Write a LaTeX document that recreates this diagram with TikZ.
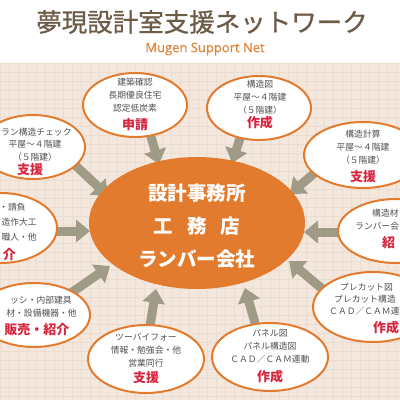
\documentclass[tikz,border=0pt]{standalone}
\usepackage{fontspec}
\newfontfamily\jp{Noto Sans CJK JP}
\newfontfamily\jpb[FakeBold=0.8]{Noto Sans CJK JP}
\newfontfamily\os[FakeBold=0.6]{Open Sans}
\usetikzlibrary{arrows.meta,shapes.geometric}
\definecolor{bg}{HTML}{F4E8DE}
\definecolor{gridc}{HTML}{ECDDD1}
\definecolor{org}{HTML}{E27B2E}
\definecolor{titlec}{HTML}{6B5B47}
\definecolor{subc}{HTML}{E0873E}
\definecolor{redc}{HTML}{D8263F}
\definecolor{txt}{HTML}{505050}
\definecolor{arr}{HTML}{A09B87}
\begin{document}
\begin{tikzpicture}[x=1pt,y=-1pt,
  bubble/.style={draw=org, line width=2pt, fill=white, ellipse, inner sep=0pt},
  centre/.style={fill=org, ellipse, inner sep=0pt, minimum width=216pt, minimum height=132pt},
  btxt/.style={font=\jp\fontsize{8.8}{13}\selectfont, text=txt, align=center, inner sep=0pt},
  lab/.style={font=\jp\bfseries\fontsize{13}{14}\selectfont, text=redc, inner sep=0pt},
  ctxt/.style={font=\jp\bfseries\fontsize{19.5}{33}\selectfont, text=white, align=center, inner sep=0pt},
  bigarrow/.style={draw=arr, line width=9pt, -{Triangle[width=22pt,length=14pt]}}]
\useasboundingbox (0,0) rectangle (400,400);
\begin{scope}
\clip (0,0) rectangle (400,400);
% background
\fill[white] (0,0) rectangle (400,63);
\fill[bg] (0,63) rectangle (400,400);
\foreach \gx in {0,9,...,400} \draw[gridc, line width=0.5pt] (\gx,63) -- (\gx,400);
\foreach \gy in {63,72,...,400} \draw[gridc, line width=0.5pt] (0,\gy) -- (400,\gy);
% title
\node[font=\jpb\fontsize{25.5}{28}\selectfont, text=titlec, inner sep=0pt] (title) at (202,22) {夢現設計室支援ネットワーク};
\node[font=\os\fontsize{13}{14}\selectfont, text=subc, inner sep=0pt] (sub) at (205,49) {Mugen Support Net};
% arrow end points
\coordinate (t1) at (149,130); \coordinate (h1) at (159,164);
\coordinate (t2) at (242,132); \coordinate (h2) at (232,163);
\coordinate (t3) at (75,165);  \coordinate (h3) at (108,196);
\coordinate (t4) at (318,170); \coordinate (h4) at (290,194);
\coordinate (t5) at (52,231);  \coordinate (h5) at (90,231);
\coordinate (t6) at (345,232); \coordinate (h6) at (304,232);
\coordinate (t7) at (68,295);  \coordinate (h7) at (110,266);
\coordinate (t8) at (149,332); \coordinate (h8) at (156,289);
\coordinate (t9) at (257,330); \coordinate (h9) at (245,288);
\coordinate (t10) at (326,292); \coordinate (h10) at (289,261);
\foreach \i in {1,...,10} \draw[bigarrow] (t\i) -- (h\i);
% centre
\node[centre] (c) at (197,223) {};
\node[ctxt] (ct) at (197,226) {設計事務所\\工\hspace{14pt}務\hspace{14pt}店\\ランバー会社};
% bubbles
\node[bubble, minimum width=104pt, minimum height=64pt] (e1) at (135,105) {};
\node[bubble, minimum width=104pt, minimum height=64pt] (e2) at (259,108) {};
\node[bubble, minimum width=104pt, minimum height=64pt] (e3) at (33,147) {};
\node[bubble, minimum width=118pt, minimum height=66pt] (e4) at (363,155) {};
\node[bubble, minimum width=112pt, minimum height=70pt] (e5) at (1,228) {};
\node[bubble, minimum width=116pt, minimum height=64pt] (e6) at (396,231) {};
\node[bubble, minimum width=112pt, minimum height=64pt] (e7) at (34,315) {};
\node[bubble, minimum width=116pt, minimum height=68pt] (e8) at (146,359) {};
\node[bubble, minimum width=116pt, minimum height=68pt] (e9) at (270,357) {};
\node[bubble, minimum width=120pt, minimum height=70pt] (e10) at (373,307) {};
% bubble texts
\node[btxt] (e1t) at (135,95) {建築確認\\長期優良住宅\\認定低炭素};
\node[lab] (e1l) at (135,125) {申請};
\node[btxt] (e2t) at (260,97) {構造図\\平屋～４階建\\（５階建）};
\node[lab] (e2l) at (260,123) {作成};
\node[btxt, anchor=west] (e3a) at (1,132) {ラン構造チェック};
\node[btxt] (e3b) at (35,151) {平屋～４階建\\（５階建）};
\node[lab] (e3l) at (30,170) {支援};
\node[btxt] (e4t) at (363,147) {構造計算\\平屋～４階建\\（５階建）};
\node[lab] (e4l) at (363,177) {支援};
\node[btxt, anchor=east] (e5a) at (26,207) {・請負};
\node[btxt, anchor=east] (e5b) at (37,222) {造作大工};
\node[btxt, anchor=east] (e5c) at (37,237) {職人・他};
\node[lab, anchor=east] (e5l) at (16,255) {介};
\node[btxt, anchor=west] (e6a) at (372,213) {構造材};
\node[btxt, anchor=west] (e6b) at (355,226) {ランバー会};
\node[lab, anchor=west] (e6l) at (382,243) {紹};
\node[btxt, anchor=east] (e7a) at (72,300) {ッシ・内部建具};
\node[btxt, anchor=east] (e7b) at (77,313) {材・設備機器・他};
\node[lab] (e7l) at (37,330) {販売・紹介};
\node[btxt] (e8t) at (146,350) {ツーバイフォー\\情報・勉強会・他\\営業同行};
\node[lab] (e8l) at (146,378) {支援};
\node[btxt] (e9t) at (270,346) {パネル図\\パネル構造図\\ＣＡＤ／ＣＡＭ連動};
\node[lab] (e9l) at (270,377) {作成};
\node[btxt, anchor=west] (e10a) at (340,287) {プレカット図};
\node[btxt, anchor=west] (e10b) at (334,299) {プレカット構造};
\node[btxt, anchor=west] (e10c) at (329,311) {ＣＡＤ／ＣＡＭ連};
\node[lab] (e10l) at (386,328) {作成};
\end{scope}
\end{tikzpicture}
\end{document}
